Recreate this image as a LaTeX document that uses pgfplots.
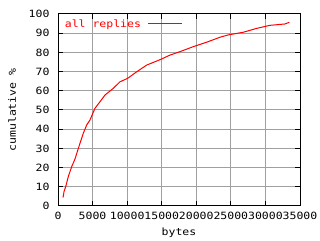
\documentclass[border=0pt]{standalone}
\usepackage{fontspec}
\setmainfont[FakeStretch=1.15]{DejaVu Sans Mono}
\usepackage{pgfplots}
\pgfplotsset{compat=1.18}
\definecolor{gridgray}{HTML}{A0A0A0}
\begin{document}
\fontsize{10pt}{11pt}\selectfont
\begin{tikzpicture}[x=1pt,y=1pt]
\useasboundingbox (0,0) rectangle (320,240);
\begin{axis}[at={(58pt,34pt)}, anchor=south west, scale only axis,
  width=242pt, height=192pt,
  xmin=0, xmax=35000, ymin=0, ymax=100,
  xtick={0,5000,...,35000}, ytick={0,10,...,100},
  scaled x ticks=false,
  /pgf/number format/assume math mode=true,
  x tick label style={/pgf/number format/fixed, /pgf/number format/1000 sep={}, yshift=-3pt},
  y tick label style={xshift=-5pt},
  grid=major, major grid style={gridgray, line width=1pt},
  tick style={black, line width=1pt}, major tick length=5pt,
  axis line style={black, line width=1pt},
  tick align=inside,
  xlabel={bytes}, ylabel={cumulative \%},
  x label style={at={(axis description cs:0.5,0)}, anchor=center, yshift=-27pt},
  y label style={at={(axis description cs:-0.19,0.5)}, anchor=center},
  legend plot pos=right,
  legend image code/.code={\draw[red, line width=1pt] (0pt,0pt) -- (34pt,0pt);},
  legend style={draw=none, fill=none, inner sep=0pt, outer sep=0pt,
    at={(rel axis cs:0.5165,0.948)}, anchor=east, text=red,
    nodes={inner sep=0pt}, column sep=7pt},
]
\addplot[red, line width=1pt] coordinates {
(700,4.5) (770,5.2) (870,7.5) (1110,10) (1490,15.3) (1980,20.5) (2460,24.5)
(2940,30) (3660,37.9) (4150,42.2) (4630,44.8) (4730,45.7) (5350,50.9)
(6070,54.3) (6800,57.8) (8000,61.3) (8970,64.7) (10080,66.5) (11380,69.9)
(12830,73.4) (14750,76.2) (16200,78.6) (17650,80.4) (19570,83) (21500,85.3)
(23430,87.9) (24630,89.1) (26800,90.5) (28730,92.5) (30660,94.1) (32830,94.8)
(33460,95.7)
};
\addlegendentry{all replies}
\end{axis}
\end{tikzpicture}
\end{document}
